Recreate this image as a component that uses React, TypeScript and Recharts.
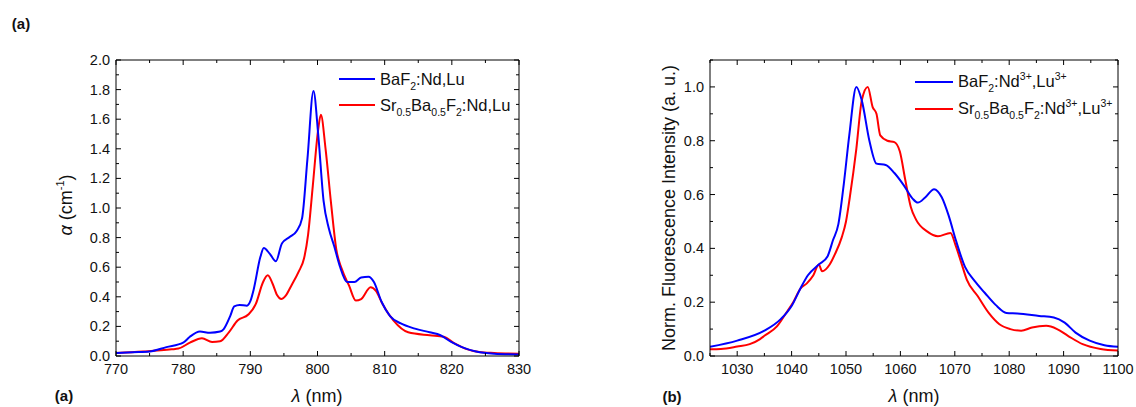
import React from "react";
import { LineChart, Line, XAxis, YAxis, Legend } from "recharts";

// (a) absorption spectra
const absWlBaF2 = [770, 772.5, 775, 777.5, 780, 781, 782.5, 784, 785.5, 786, 787, 787.6, 788.4, 789.5, 790, 790.5, 791.5, 792, 792.9, 793.8, 794.7, 795.9, 796.9, 797.7, 798.5, 799.4, 800.1, 800.9, 801.7, 802.5, 803.3, 804.4, 805.5, 806.5, 807.6, 808.4, 809.5, 810.8, 812.4, 814.5, 816.7, 818.3, 819.9, 821.5, 823.6, 826.3, 830];
const absBaF2 = [0.02, 0.025, 0.03, 0.06, 0.09, 0.13, 0.165, 0.157, 0.165, 0.18, 0.27, 0.335, 0.345, 0.34, 0.37, 0.45, 0.67, 0.73, 0.69, 0.64, 0.76, 0.805, 0.845, 0.93, 1.33, 1.79, 1.5, 1.05, 0.86, 0.74, 0.61, 0.5, 0.5, 0.53, 0.535, 0.5, 0.37, 0.27, 0.22, 0.185, 0.16, 0.14, 0.095, 0.06, 0.03, 0.015, 0.01];

const absWlSrBa = [770, 774, 778.3, 779.3, 781, 782.8, 784.3, 785.5, 786.8, 788.1, 789.7, 790.8, 791.9, 792.6, 793.3, 794, 794.6, 795.3, 796.1, 797.2, 798, 798.6, 799.3, 800.1, 800.5, 801.2, 802, 802.8, 803.6, 804.7, 805.7, 806.5, 807.9, 808.7, 809.7, 811.3, 813.5, 816.7, 818.8, 820.4, 822, 824.1, 826.3, 830];
const absSrBa = [0.02, 0.03, 0.045, 0.05, 0.09, 0.12, 0.095, 0.1, 0.16, 0.24, 0.28, 0.35, 0.5, 0.545, 0.49, 0.41, 0.385, 0.41, 0.475, 0.57, 0.66, 0.82, 1.15, 1.53, 1.63, 1.4, 1.04, 0.72, 0.59, 0.475, 0.375, 0.385, 0.465, 0.44, 0.35, 0.24, 0.16, 0.14, 0.13, 0.085, 0.05, 0.027, 0.02, 0.015];

// (b) normalised fluorescence
const flWlBaF2 = [1025, 1030, 1035, 1038, 1040, 1041.6, 1043, 1045, 1046.6, 1047.6, 1048.6, 1049.6, 1050.6, 1051.9, 1052.9, 1054.3, 1055.6, 1057.3, 1058.9, 1060.6, 1062.2, 1063.2, 1064.6, 1066.2, 1067.6, 1068.9, 1070.2, 1071.9, 1073.6, 1075.5, 1077.5, 1079.5, 1081.5, 1085.5, 1088.2, 1090.2, 1092.2, 1094.8, 1097.5, 1100];
const flBaF2 = [0.034, 0.057, 0.094, 0.137, 0.186, 0.25, 0.3, 0.34, 0.37, 0.43, 0.49, 0.64, 0.82, 1.0, 0.95, 0.8, 0.715, 0.71, 0.68, 0.635, 0.586, 0.57, 0.59, 0.62, 0.59, 0.52, 0.43, 0.33, 0.28, 0.235, 0.19, 0.16, 0.158, 0.149, 0.143, 0.124, 0.087, 0.057, 0.04, 0.034];

const flWlSrBa = [1025, 1027, 1030, 1032.3, 1034.2, 1035, 1037.3, 1039, 1040.3, 1041.6, 1042.8, 1044, 1045, 1045.6, 1047, 1048, 1049.2, 1050, 1050.7, 1051.9, 1052.9, 1054, 1054.9, 1055.6, 1056.3, 1057.6, 1058.9, 1059.9, 1060.9, 1061.9, 1062.9, 1064.9, 1066.9, 1069.2, 1070.2, 1071.2, 1072.2, 1074.2, 1076.2, 1078.2, 1080.2, 1082.2, 1084.2, 1086.8, 1088.8, 1090.8, 1093.5, 1096.8, 1100];
const flSrBa = [0.025, 0.026, 0.035, 0.044, 0.063, 0.075, 0.11, 0.16, 0.2, 0.25, 0.27, 0.3, 0.34, 0.315, 0.34, 0.38, 0.44, 0.5, 0.59, 0.77, 0.95, 1.0, 0.925, 0.9, 0.82, 0.8, 0.795, 0.76, 0.654, 0.555, 0.506, 0.463, 0.445, 0.457, 0.408, 0.346, 0.284, 0.223, 0.161, 0.118, 0.1, 0.094, 0.106, 0.112, 0.1, 0.075, 0.044, 0.026, 0.02];

// ticks
const absXMajor = [770, 780, 790, 800, 810, 820, 830];
const absXMinor = [775, 785, 795, 805, 815, 825];
const absYMajor = [0, 0.2, 0.4, 0.6, 0.8, 1.0, 1.2, 1.4, 1.6, 1.8, 2.0];
const absYMinor = [0.1, 0.3, 0.5, 0.7, 0.9, 1.1, 1.3, 1.5, 1.7, 1.9];
const flXMajor = [1030, 1040, 1050, 1060, 1070, 1080, 1090, 1100];
const flXMinor = [1025, 1035, 1045, 1055, 1065, 1075, 1085, 1095];
const flYMajor = [0, 0.2, 0.4, 0.6, 0.8, 1.0];
const flYMinor = [0.1, 0.3, 0.5, 0.7, 0.9, 1.1];

const FONT = '"Liberation Sans", Arial, Helvetica, sans-serif';
const BLUE = "#0000ff";
const RED = "#ff0000";
const INK = "#111";

const zip = (xs: number[], ys: number[]) => xs.map((x, i) => ({ x, y: ys[i] }));
const sortNum = (a: number[], b: number[]) => [...a, ...b].sort((p, q) => p - q);

type Side = "bottom" | "left" | "top" | "right";

// draws inward tick marks; labels only on major ticks of bottom/left axes
function makeTick(side: Side, majors: number[], fmt?: (v: number) => string) {
  return (props: any) => {
    const { x, y, payload } = props;
    const v = payload.value as number;
    const major = majors.some((m) => Math.abs(m - v) < 1e-9);
    const len = major ? 5 : 3;
    let x2 = x;
    let y2 = y;
    if (side === "bottom") y2 = y - len;
    if (side === "top") y2 = y + len;
    if (side === "left") x2 = x + len;
    if (side === "right") x2 = x - len;
    let label = null;
    if (major && fmt && side === "bottom") {
      label = (
        <text x={x} y={y + 18} textAnchor="middle" fontSize={14.5} fill={INK} fontFamily={FONT}>
          {fmt(v)}
        </text>
      );
    }
    if (major && fmt && side === "left") {
      label = (
        <text x={x - 6} y={y + 5} textAnchor="end" fontSize={14.5} fill={INK} fontFamily={FONT}>
          {fmt(v)}
        </text>
      );
    }
    return (
      <g>
        <line x1={x} y1={y} x2={x2} y2={y2} stroke="#000" strokeWidth={1} />
        {label}
      </g>
    );
  };
}

const sub = (t: string) => (
  <span style={{ fontSize: 10.5, position: "relative", top: 5 }}>{t}</span>
);
const sup = (t: string) => (
  <span style={{ fontSize: 10.5, position: "relative", top: -7 }}>{t}</span>
);

function legendContent(rows: { color: string; label: React.ReactNode }[], rowH: number, lineW: number) {
  return () => (
    <div style={{ fontFamily: FONT, fontSize: 16.5, color: INK }}>
      {rows.map((r, i) => (
        <div key={i} style={{ display: "flex", alignItems: "center", height: rowH, whiteSpace: "nowrap" }}>
          <div style={{ width: lineW, borderTop: `2.5px solid ${r.color}`, marginRight: 5 }} />
          <span>{r.label}</span>
        </div>
      ))}
    </div>
  );
}

function Txt({ x, y, children, style }: { x: number; y: number; children: React.ReactNode; style?: React.CSSProperties }) {
  return (
    <div
      style={{
        position: "absolute",
        left: x,
        top: y,
        transform: "translate(-50%, -50%)",
        whiteSpace: "nowrap",
        fontFamily: FONT,
        color: INK,
        ...style,
      }}
    >
      {children}
    </div>
  );
}

const fmt1 = (v: number) => v.toFixed(1);
const fmt0 = (v: number) => String(v);

// plot box is given in the chart's own pixels; axes sizes are folded into the margin
function Panel(props: {
  width: number;
  box: { left: number; right: number; top: number; bottom: number };
  xDomain: [number, number];
  yDomain: [number, number];
  xMajor: number[];
  xMinor: number[];
  yMajor: number[];
  yMinor: number[];
  blue: { x: number; y: number }[];
  red: { x: number; y: number }[];
  legend: () => React.ReactNode;
  legendPos: { left: number; top: number };
}) {
  const xTicks = sortNum(props.xMajor, props.xMinor);
  const yTicks = sortNum(props.yMajor, props.yMinor);
  const H = 407;
  const xAxisH = 30;
  const yAxisW = 40;
  const margin = {
    top: props.box.top - 1,
    bottom: H - props.box.bottom - xAxisH,
    left: props.box.left - yAxisW,
    right: props.width - props.box.right - 1,
  };
  return (
    <LineChart width={props.width} height={H} margin={margin}>
      <XAxis
        type="number"
        dataKey="x"
        domain={props.xDomain}
        allowDataOverflow
        ticks={xTicks}
        interval={0}
        height={xAxisH}
        tickSize={0}
        tickMargin={0}
        tickLine={false}
        axisLine={{ stroke: "#000" }}
        tick={makeTick("bottom", props.xMajor, fmt0)}
      />
      <XAxis
        xAxisId="top"
        orientation="top"
        type="number"
        dataKey="x"
        domain={props.xDomain}
        allowDataOverflow
        ticks={xTicks}
        interval={0}
        height={1}
        tickSize={0}
        tickMargin={0}
        tickLine={false}
        axisLine={{ stroke: "#000" }}
        tick={makeTick("top", props.xMajor)}
      />
      <YAxis
        type="number"
        domain={props.yDomain}
        allowDataOverflow
        ticks={yTicks}
        interval={0}
        width={yAxisW}
        tickSize={0}
        tickMargin={0}
        tickLine={false}
        axisLine={{ stroke: "#000" }}
        tick={makeTick("left", props.yMajor, fmt1)}
      />
      <YAxis
        yAxisId="right"
        orientation="right"
        type="number"
        domain={props.yDomain}
        allowDataOverflow
        ticks={yTicks}
        interval={0}
        width={1}
        tickSize={0}
        tickMargin={0}
        tickLine={false}
        axisLine={{ stroke: "#000" }}
        tick={makeTick("right", props.yMajor)}
      />
      <Line
        data={props.red}
        dataKey="y"
        type="monotone"
        stroke={RED}
        strokeWidth={2}
        dot={false}
        isAnimationActive={false}
      />
      <Line
        data={props.blue}
        dataKey="y"
        type="monotone"
        stroke={BLUE}
        strokeWidth={2}
        dot={false}
        isAnimationActive={false}
      />
      <Legend
        verticalAlign="middle"
        align="center"
        content={props.legend}
        wrapperStyle={{ left: props.legendPos.left, top: props.legendPos.top, width: "auto", height: "auto" }}
      />
    </LineChart>
  );
}

export default function App() {
  const legendA = legendContent(
    [
      { color: BLUE, label: <>BaF{sub("2")}:Nd,Lu</> },
      { color: RED, label: <>Sr{sub("0.5")}Ba{sub("0.5")}F{sub("2")}:Nd,Lu</> },
    ],
    26,
    36
  );
  const legendB = legendContent(
    [
      { color: BLUE, label: <>BaF{sub("2")}:Nd{sup("3+")},Lu{sup("3+")}</> },
      { color: RED, label: <>Sr{sub("0.5")}Ba{sub("0.5")}F{sub("2")}:Nd{sup("3+")},Lu{sup("3+")}</> },
    ],
    27,
    38
  );
  return (
    <div style={{ position: "absolute", left: 0, top: 0, width: 1136, height: 407, background: "#fff", overflow: "hidden" }}>
      <div style={{ position: "absolute", left: 0, top: 0 }}>
        <Panel
          width={560}
          box={{ left: 116, right: 519, top: 60, bottom: 356 }}
          xDomain={[770, 830]}
          yDomain={[0, 2]}
          xMajor={absXMajor}
          xMinor={absXMinor}
          yMajor={absYMajor}
          yMinor={absYMinor}
          blue={zip(absWlBaF2, absBaF2)}
          red={zip(absWlSrBa, absSrBa)}
          legend={legendA}
          legendPos={{ left: 339, top: 66 }}
        />
      </div>
      <div style={{ position: "absolute", left: 568, top: 0 }}>
        <Panel
          width={568}
          box={{ left: 142, right: 550, top: 60, bottom: 356 }}
          xDomain={[1025, 1100]}
          yDomain={[0, 1.1]}
          xMajor={flXMajor}
          xMinor={flXMinor}
          yMajor={flYMajor}
          yMinor={flYMinor}
          blue={zip(flWlBaF2, flBaF2)}
          red={zip(flWlSrBa, flSrBa)}
          legend={legendB}
          legendPos={{ left: 347, top: 68 }}
        />
      </div>

      <Txt x={21} y={23} style={{ fontSize: 15, fontWeight: "bold" }}>(a)</Txt>
      <Txt x={64} y={395} style={{ fontSize: 15, fontWeight: "bold" }}>(a)</Txt>
      <Txt x={672} y={396} style={{ fontSize: 15, fontWeight: "bold" }}>(b)</Txt>

      <Txt x={317} y={396} style={{ fontSize: 18 }}>
        <i>λ</i> (nm)
      </Txt>
      <Txt x={914} y={396} style={{ fontSize: 18 }}>
        <i>λ</i> (nm)
      </Txt>

      <Txt x={66} y={205} style={{ fontSize: 18, transform: "translate(-50%, -50%) rotate(-90deg)" }}>
        <i>α</i> (cm<span style={{ fontSize: 11, position: "relative", top: -8 }}>-1</span>)
      </Txt>
      <Txt x={669} y={208} style={{ fontSize: 18, transform: "translate(-50%, -50%) rotate(-90deg)" }}>
        Norm. Fluorescence Intensity (a. u.)
      </Txt>
    </div>
  );
}
